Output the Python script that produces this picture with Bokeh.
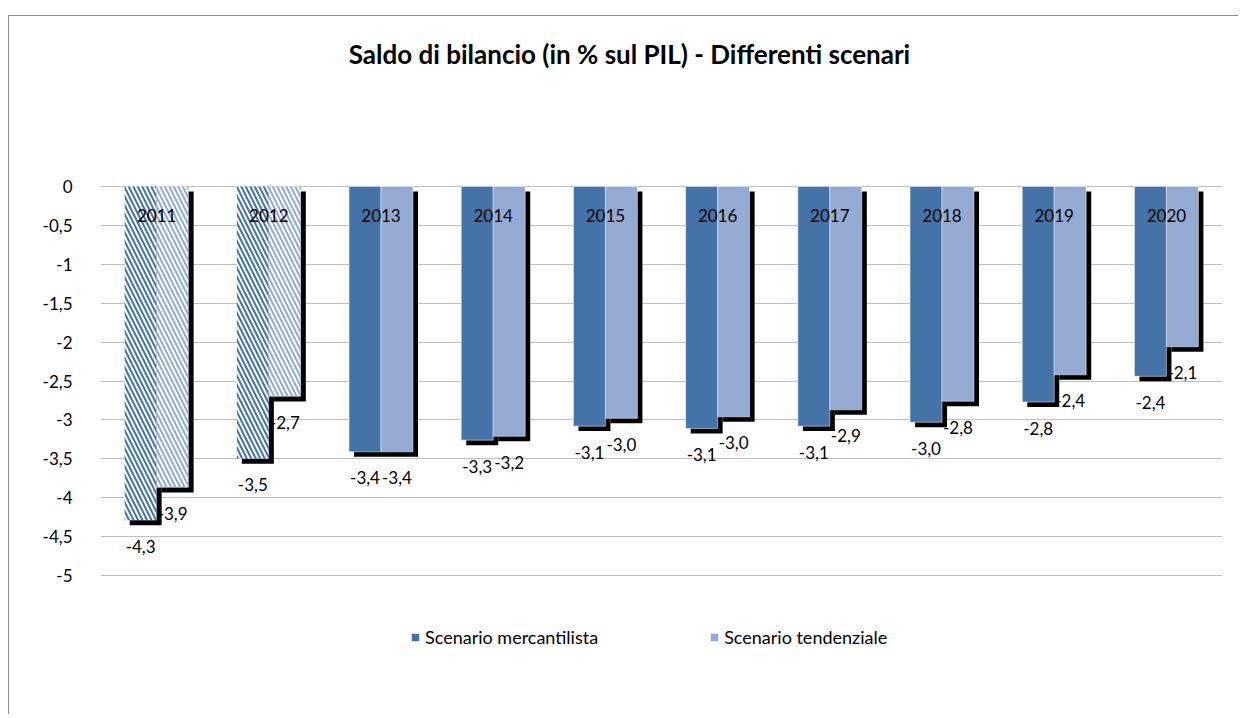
from bokeh.plotting import figure
from bokeh.models import (ColumnDataSource, FixedTicker, Legend, LegendItem, Range1d,
                          FactorRange, Label)
from bokeh.transform import dodge
from bokeh.embed import file_html
from bokeh.resources import INLINE
from bokeh.core.properties import value

# ---------------- data ----------------
title_text = "Saldo di bilancio (in % sul PIL) - Differenti scenari"
years = ["2011", "2012", "2013", "2014", "2015", "2016", "2017", "2018", "2019", "2020"]
series_names = ["Scenario mercantilista", "Scenario tendenziale"]
mercantilista = [-4.29, -3.50, -3.41, -3.26, -3.08, -3.11, -3.08, -3.03, -2.77, -2.44]
tendenziale = [-3.87, -2.70, -3.41, -3.21, -2.98, -2.96, -2.87, -2.76, -2.42, -2.06]
hatched_years = ["2011", "2012"]
y_ticks = [0, -0.5, -1, -1.5, -2, -2.5, -3, -3.5, -4, -4.5, -5]
y_tick_labels = ["0", "-0,5", "-1", "-1,5", "-2", "-2,5", "-3", "-3,5", "-4", "-4,5", "-5"]

# ---------------- style / layout ----------------
FONT = "Lato"
DARK = "#4572a7"
LIGHT = "#94aad3"
BAR_W = 0.285
HALF = BAR_W / 2
SHADOW_X = 0.045   # category units (~5px)
SHADOW_Y = 0.064   # value units (~5px)
Y_TOP = 2.185      # frame extends above 0 to host the title
Y_BOTTOM = -6.105  # and below -5 to host the legend


def fmt(v):
    return f"{v:.1f}".replace(".", ",")


def make_source(idx):
    idx = list(idx)
    return ColumnDataSource(dict(
        year=[years[i] for i in idx],
        merc=[mercantilista[i] for i in idx],
        tend=[tendenziale[i] for i in idx],
        merc_label=[fmt(mercantilista[i]) for i in idx],
        tend_label=[fmt(tendenziale[i]) for i in idx],
    ))


hist_idx = [i for i, y in enumerate(years) if y in hatched_years]
proj_idx = [i for i, y in enumerate(years) if y not in hatched_years]
all_src = make_source(range(len(years)))
hist_src = make_source(hist_idx)
proj_src = make_source(proj_idx)

p = figure(
    x_range=FactorRange(*years, range_padding=0),
    y_range=Range1d(Y_BOTTOM, Y_TOP),
    width=1230, height=699,
    min_border_left=91, min_border_right=17,
    min_border_top=0, min_border_bottom=54,
    output_backend="svg", toolbar_location=None,
    styles={"margin-left": "8px", "margin-top": "15px",
            "border-left": "1px solid #8e8e8e", "border-top": "1px solid #8e8e8e"},
)
p.extra_y_ranges = {"shadow": Range1d(Y_BOTTOM + SHADOW_Y, Y_TOP + SHADOW_Y)}

p.outline_line_color = None
p.background_fill_color = "white"
p.border_fill_color = "white"

p.xaxis.visible = False
p.xgrid.grid_line_color = None

p.yaxis.ticker = FixedTicker(ticks=y_ticks)
p.yaxis.major_label_overrides = {t: l for t, l in zip(y_ticks, y_tick_labels)}
p.yaxis.axis_line_color = None
p.yaxis.major_tick_line_color = None
p.yaxis.minor_tick_line_color = None
p.yaxis.major_tick_in = 0
p.yaxis.major_tick_out = 0
p.yaxis.major_label_standoff = 28
p.yaxis.major_label_text_font = FONT
p.yaxis.major_label_text_font_size = "17px"
p.yaxis.major_label_text_color = "black"

p.ygrid.ticker = FixedTicker(ticks=y_ticks)
p.ygrid.grid_line_color = "#c0c0c0"
p.ygrid.grid_line_width = 1

# title
p.add_layout(Label(x=529, x_units="screen", y=1.70, text=title_text,
                   text_font=FONT, text_font_size="26px", text_font_style="bold",
                   text_color="black", text_align="center", text_baseline="middle"))

# value labels (drawn first, so shadows overlap them as in the original)
lbl_kw = dict(text_font=value(FONT), text_font_size="17px", text_color="black",
              text_align="center", text_baseline="middle", y_offset=26)
p.text(x=dodge("year", -HALF, range=p.x_range), y="merc", text="merc_label",
       source=all_src, **lbl_kw)
p.text(x=dodge("year", HALF, range=p.x_range), y="tend", text="tend_label",
       source=all_src, **lbl_kw)

# shadows
for col, off in (("merc", -HALF), ("tend", HALF)):
    p.vbar(x=dodge("year", off + SHADOW_X, range=p.x_range), top=0, bottom=col,
           width=BAR_W, source=all_src, y_range_name="shadow",
           fill_color="black", line_color=None)

# hatched (historical) bars
for col, off, c in (("merc", -HALF, DARK), ("tend", HALF, LIGHT)):
    p.vbar(x=dodge("year", off, range=p.x_range), top=0, bottom=col,
           width=BAR_W, source=hist_src, fill_color="white", line_color=None,
           hatch_pattern="\\", hatch_color=c, hatch_weight=2, hatch_scale=9)

# solid bars
r_merc = p.vbar(x=dodge("year", -HALF, range=p.x_range), top=0, bottom="merc",
                width=BAR_W, source=proj_src, fill_color=DARK,
                line_color="white", line_alpha=0.5, line_width=1)
r_tend = p.vbar(x=dodge("year", HALF, range=p.x_range), top=0, bottom="tend",
                width=BAR_W, source=proj_src, fill_color=LIGHT,
                line_color="white", line_alpha=0.5, line_width=1)

# category labels near the zero axis
p.text(x="year", y=0, text="year", source=all_src, text_font=value(FONT),
       text_font_size="17px", text_color="black", text_align="center",
       text_baseline="middle", y_offset=29)

legend = Legend(
    items=[LegendItem(label=series_names[0], renderers=[r_merc]),
           LegendItem(label=series_names[1], renderers=[r_tend])],
    orientation="horizontal", location=(310, 13),
    label_text_font=FONT, label_text_font_size="18px", label_text_color="black",
    glyph_width=10, glyph_height=10, label_standoff=5, spacing=111,
    border_line_color=None, background_fill_alpha=0, margin=0, padding=0,
)
p.add_layout(legend)

open("out.html", "w").write(file_html(p, INLINE))
